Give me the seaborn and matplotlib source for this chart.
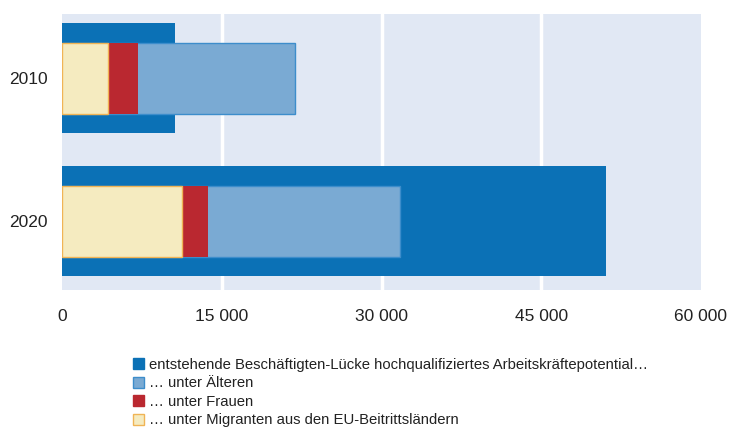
import matplotlib
matplotlib.use("Agg")
import matplotlib.pyplot as plt
from matplotlib.patches import Patch
import seaborn as sns
import pandas as pd
import numpy as np

years = ["2010", "2020"]
gap_total = [10600, 51100]
migranten = [4300, 11300]
frauen = [2800, 2400]
aeltere = [14800, 18000]
xticks = [0, 15000, 30000, 45000, 60000]
xtick_labels = ["0", "15 000", "30 000", "45 000", "60 000"]
legend_labels = [
    "entstehende Beschäftigten-Lücke hochqualifiziertes Arbeitskräftepotential…",
    "… unter Älteren",
    "… unter Frauen",
    "… unter Migranten aus den EU-Beitrittsländern",
]

c_dark = "#0B71B6"
c_light = "#7AAAD3"
c_light_edge = "#3D8DCB"
c_red = "#BA2830"
c_yellow = "#F5EBC0"
c_yellow_edge = "#F0B455"

sns.set_theme(style="white")
plt.rcParams["font.family"] = ["Liberation Sans", "DejaVu Sans"]

fig = plt.figure(figsize=(7.31, 4.28), dpi=100)
ax = fig.add_axes([62 / 731, 1 - 290 / 428, 639 / 731, 276 / 428])
ax.set_facecolor("#E1E8F4")

df = pd.DataFrame({"year": years, "total": gap_total})
cum_mig = np.array(migranten)
cum_fr = cum_mig + np.array(frauen)
cum_ae = cum_fr + np.array(aeltere)

sns.barplot(data=df, y="year", x="total", color=c_dark, width=0.77,
            saturation=1, ax=ax, orient="h", zorder=2, linewidth=0)
sns.barplot(y=years, x=cum_ae, color=c_light, width=0.5, saturation=1, ax=ax,
            orient="h", edgecolor=c_light_edge, linewidth=1, zorder=3)
sns.barplot(y=years, x=cum_fr, color=c_red, width=0.5, saturation=1, ax=ax,
            orient="h", linewidth=0, zorder=4)
sns.barplot(y=years, x=cum_mig, color=c_yellow, width=0.5, saturation=1, ax=ax,
            orient="h", edgecolor=c_yellow_edge, linewidth=1, zorder=5)

ax.set_xlim(0, 60000)
ax.set_ylim(1.48, -0.45)
ax.set_xticks(xticks)
ax.set_xticklabels(xtick_labels)
for xv in xticks[1:-1]:
    ax.axvline(xv, color="white", linewidth=2.5, zorder=1)
for s in ax.spines.values():
    s.set_visible(False)
ax.set_xlabel("")
ax.set_ylabel("")
ax.tick_params(axis="both", length=0, labelsize=12.5, colors="#222222")
ax.tick_params(axis="x", pad=14)
ax.tick_params(axis="y", pad=10)

handles = [
    Patch(facecolor=c_dark, edgecolor=c_dark),
    Patch(facecolor=c_light, edgecolor=c_light_edge),
    Patch(facecolor=c_red, edgecolor=c_red),
    Patch(facecolor=c_yellow, edgecolor=c_yellow_edge),
]
fig.legend(handles, legend_labels, loc="upper left",
           bbox_to_anchor=(133 / 731, 1 - 358 / 428), frameon=False,
           fontsize=10.7, handlelength=0.75, handleheight=0.75,
           handletextpad=0.3, labelspacing=0.3, borderaxespad=0,
           borderpad=0, labelcolor="#222222")

fig.savefig("out.png", dpi=100)
